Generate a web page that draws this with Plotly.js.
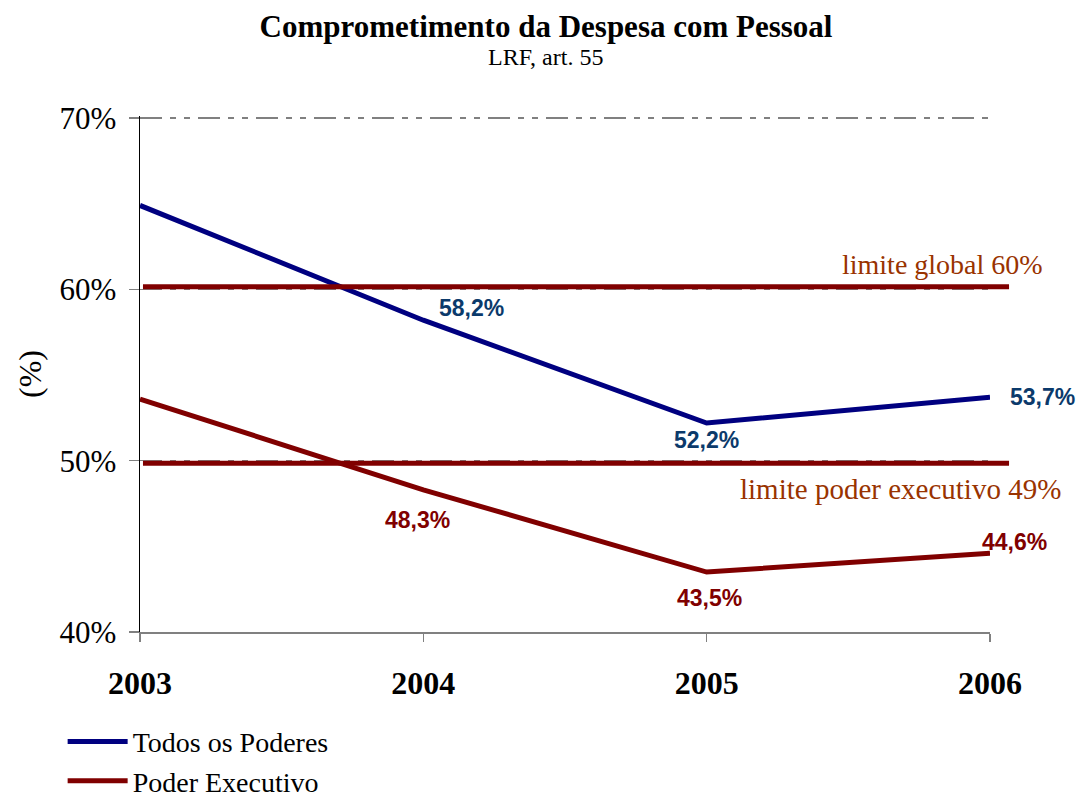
<!DOCTYPE html>
<html>
<head>
<meta charset="utf-8">
<script src="https://cdn.plot.ly/plotly-3.0.1.min.js"></script>
<style>html,body{margin:0;padding:0;background:#fff;}#chart{width:1080px;height:799px;}</style>
</head>
<body>
<div id="chart"></div>
<script>
const years = ['2003', '2004', '2005', '2006'];
const todosPoderes = [64.9, 58.2, 52.2, 53.7];
const poderExecutivo = [53.6, 48.3, 43.5, 44.6];
const seriesNames = ['Todos os Poderes', 'Poder Executivo'];
const limitValues = [60.15, 49.85];
const limitLabels = ['limite global 60%', 'limite poder executivo 49%'];
const yTicks = [40, 50, 60, 70];
const yTickLabels = ['40%', '50%', '60%', '70%'];

const serif = '"Liberation Serif", "Times New Roman", Times, serif';
const sans = '"Liberation Sans", Arial, sans-serif';
const fmt = v => v.toFixed(1).replace('.', ',') + '%';

const traces = [
  {x: years, y: todosPoderes, name: seriesNames[0], type: 'scatter', mode: 'lines',
   line: {color: '#000080', width: 5}},
  {x: years, y: poderExecutivo, name: seriesNames[1], type: 'scatter', mode: 'lines',
   line: {color: '#800000', width: 5}}
];

// label offsets (style only)
const blueOff = [null, [48, 12], [0, -17], [52, 0]];
const redOff = [null, [-6, -30], [3, -26], [24, 11]];
const annotations = [];
for (let i = 1; i < years.length; i++) {
  annotations.push({x: i, y: todosPoderes[i], xref: 'x', yref: 'y', text: fmt(todosPoderes[i]),
    showarrow: false, xanchor: 'center', yanchor: 'middle', xshift: blueOff[i][0], yshift: blueOff[i][1],
    font: {family: sans, size: 23, color: '#0B3A6B', weight: 'bold'}});
  annotations.push({x: i, y: poderExecutivo[i], xref: 'x', yref: 'y', text: fmt(poderExecutivo[i]),
    showarrow: false, xanchor: 'center', yanchor: 'middle', xshift: redOff[i][0], yshift: redOff[i][1],
    font: {family: sans, size: 23, color: '#800000', weight: 'bold'}});
}
annotations.push({x: 1.065, xref: 'paper', xanchor: 'right', y: limitValues[0], yref: 'y', yanchor: 'middle',
  yshift: 22, text: limitLabels[0], showarrow: false, font: {family: serif, size: 28, color: '#993300'}});
annotations.push({x: 1.086, xref: 'paper', xanchor: 'right', y: limitValues[1], yref: 'y', yanchor: 'middle',
  yshift: -26, text: limitLabels[1], showarrow: false, font: {family: serif, size: 29, color: '#993300'}});
annotations.push({x: 0.4776, xref: 'paper', xanchor: 'center', y: 1.115, yref: 'paper', yanchor: 'middle',
  text: 'LRF, art. 55', showarrow: false, font: {family: serif, size: 24, color: '#000'}});
annotations.push({x: -0.1294, xref: 'paper', xanchor: 'center', y: 0.5, yref: 'paper', yanchor: 'middle',
  text: '(%)', textangle: -90, showarrow: false, font: {family: serif, size: 32, color: '#000'}});

const shapes = limitValues.map(v => ({type: 'line', xref: 'paper', yref: 'y', x0: 0.0035, x1: 1.0224,
  y0: v, y1: v, layer: 'above', line: {color: '#800000', width: 5}}));

const layout = {
  width: 1080, height: 799,
  margin: {l: 140, r: 90, t: 116, b: 167, autoexpand: false},
  paper_bgcolor: '#fff', plot_bgcolor: '#fff',
  title: {text: 'Comprometimento da Despesa com Pessoal', x: 0.5056, xref: 'container',
    y: 0.967, yref: 'container', yanchor: 'middle',
    font: {family: serif, size: 31, color: '#000', weight: 'bold'}},
  xaxis: {type: 'category', range: [0, 3], showgrid: false, zeroline: false, automargin: false,
    showline: true, linecolor: '#808080', linewidth: 1.5,
    ticks: 'outside', ticklen: 8, tickcolor: '#808080', tickwidth: 1.5,
    ticklabelstandoff: 14,
    tickfont: {family: serif, size: 32, color: '#000', weight: 'bold'}},
  yaxis: {range: [40, 70.12], tickvals: yTicks, ticktext: yTickLabels, automargin: false,
    showgrid: true, gridcolor: '#808080', gridwidth: 1.5, griddash: '22px,8px,6px,8px,6px,8px',
    zeroline: false, showline: true, linecolor: '#000', linewidth: 1.5,
    ticks: 'outside', ticklen: 10, tickcolor: '#808080', tickwidth: 1.5,
    ticklabelstandoff: 6,
    tickfont: {family: serif, size: 31, color: '#000'}},
  legend: {xref: 'container', yref: 'container', x: 0.058, xanchor: 'left', y: 0.103, yanchor: 'top',
    orientation: 'v', itemwidth: 60,
    font: {family: serif, size: 28, color: '#000'}, bgcolor: 'rgba(0,0,0,0)'},
  showlegend: true,
  annotations: annotations,
  shapes: shapes
};

Plotly.newPlot('chart', traces, layout, {displayModeBar: false, staticPlot: true});
</script>
</body>
</html>
